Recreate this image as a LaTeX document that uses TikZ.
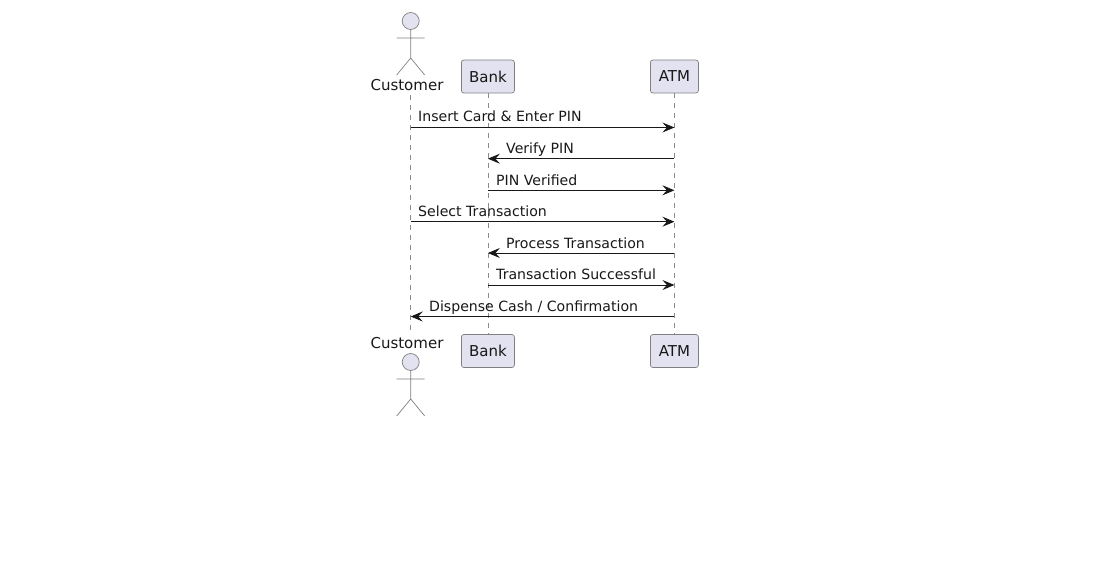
\documentclass[tikz,border=0pt]{standalone}
\usepackage{fontspec}
\setmainfont{DejaVu Sans}
\usepackage{xcolor}
\usetikzlibrary{positioning,arrows.meta}
\definecolor{partfill}{HTML}{E2E2F0}
\definecolor{partline}{HTML}{181818}
\tikzset{
  partbox/.style={draw=partline!55, line width=0.7pt, fill=partfill, rounded corners=2.5pt, minimum height=33pt, inner sep=0pt, font=\fontsize{15}{17}\selectfont, text=partline},
  lifeline/.style={draw=partline!50, line width=0.6pt, dash pattern=on 5pt off 5pt},
  msg/.style={draw=partline, line width=0.8pt, -{Stealth[length=12pt,width=10pt,inset=4.5pt]}},
  msglabel/.style={font=\fontsize{14.1}{16}\selectfont, text=partline, inner sep=0pt, anchor=base west},
  limb/.style={draw=partline!55, line width=0.7pt},
  actorname/.style={font=\fontsize{15}{17}\selectfont, text=partline, inner sep=0pt, anchor=base}
}
\begin{document}
\begin{tikzpicture}[x=1pt,y=-1pt]
\useasboundingbox (0,0) rectangle (1100,562);

% Participants
\node[partbox, minimum width=53pt] (banktop) at (487.9,76.5) {Bank};
\node[partbox, minimum width=48pt] (atmtop) at (674.4,76.5) {ATM};
\node[partbox, minimum width=53pt] (bankbot) at (487.9,351) {Bank};
\node[partbox, minimum width=48pt] (atmbot) at (674.4,351) {ATM};
\node[actorname] (custtop) at (407,90) {Customer};
\node[actorname] (custbot) at (407,348) {Customer};

% Lifelines
\coordinate (cutop) at (410.7,95);
\coordinate (cubot) at (410.7,333);
\draw[lifeline] (cutop) -- (cubot);
\draw[lifeline] (banktop) -- (bankbot);
\draw[lifeline] (atmtop) -- (atmbot);

% Actors
\draw[limb, fill=partfill] (410.7,21) circle (8.5pt);
\draw[limb] (410.7,29.5) -- (410.7,58) (396.7,38) -- (424.7,38) (396.7,75) -- (410.7,58) -- (424.7,75);
\draw[limb, fill=partfill] (410.7,362) circle (8.5pt);
\draw[limb] (410.7,370.5) -- (410.7,399) (396.7,379) -- (424.7,379) (396.7,416) -- (410.7,399) -- (424.7,416);

% Message rows
\foreach \i/\y in {1/127.5,2/158.7,3/190.3,4/221.7,5/253,6/285,7/316.5} {
  \coordinate (cu\i) at (410.7,\y);
  \coordinate (ba\i) at (487.9,\y);
  \coordinate (at\i) at (674.4,\y);
}

% Messages
\draw[msg] (cu1) -- (at1);
\node[msglabel] at (418,121) {Insert Card \& Enter PIN};
\draw[msg] (at2) -- (ba2);
\node[msglabel] at (506,153) {Verify PIN};
\draw[msg] (ba3) -- (at3);
\node[msglabel] at (496,185) {PIN Verified};
\draw[msg] (cu4) -- (at4);
\node[msglabel] at (418,216) {Select Transaction};
\draw[msg] (at5) -- (ba5);
\node[msglabel] at (506,248) {Process Transaction};
\draw[msg] (ba6) -- (at6);
\node[msglabel] at (496,279) {Transaction Successful};
\draw[msg] (at7) -- (cu7);
\node[msglabel] at (429,311) {Dispense Cash / Confirmation};
\end{tikzpicture}
\end{document}
